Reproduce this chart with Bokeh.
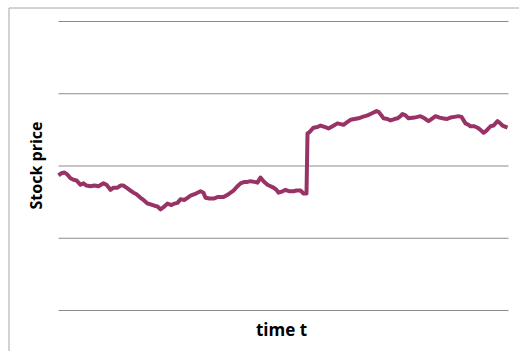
from bokeh.plotting import figure
from bokeh.models import Range1d
from bokeh.core.properties import value
from bokeh.embed import file_html
from bokeh.resources import INLINE

# ---- data ----
time_t = [0, 3, 6, 9, 12, 15, 18, 22, 25, 28, 32, 36, 40, 45, 48, 52, 55, 59, 62, 65,
          69, 72, 75, 78, 82, 85, 89, 92, 96, 99, 102, 105, 109, 113, 116, 119, 122, 126,
          129, 132, 136, 139, 142, 145, 147, 151, 155, 159, 165, 170, 175, 179, 182, 186,
          189, 192, 196, 199, 202, 205, 209, 212, 215, 218, 220, 224, 227, 231, 235, 238,
          242, 245, 248, 249, 251, 255, 259, 262, 266, 270, 274, 279, 282, 285, 289, 292,
          296, 300, 304, 309, 312, 315, 318, 320, 323, 325, 329, 332, 336, 339, 342, 344,
          347, 350, 356, 362, 366, 370, 374, 377, 381, 384, 388, 392, 396, 400, 403, 407,
          410, 412, 416, 419, 422, 425, 428, 432, 435, 439, 441, 444, 449]
stock_price = [1.87, 1.90, 1.91, 1.88, 1.83, 1.81, 1.80, 1.74, 1.76, 1.73, 1.72, 1.73, 1.72,
               1.76, 1.74, 1.67, 1.70, 1.70, 1.73, 1.73, 1.69, 1.66, 1.63, 1.61, 1.56, 1.53,
               1.48, 1.47, 1.45, 1.44, 1.40, 1.43, 1.48, 1.46, 1.48, 1.49, 1.54, 1.53, 1.56,
               1.59, 1.61, 1.63, 1.65, 1.63, 1.56, 1.55, 1.55, 1.57, 1.57, 1.61, 1.66, 1.72,
               1.76, 1.78, 1.78, 1.79, 1.78, 1.77, 1.84, 1.79, 1.74, 1.72, 1.70, 1.67, 1.63,
               1.65, 1.67, 1.65, 1.65, 1.66, 1.66, 1.62, 1.62, 2.45, 2.47, 2.53, 2.54, 2.56,
               2.54, 2.52, 2.55, 2.59, 2.58, 2.57, 2.61, 2.64, 2.65, 2.66, 2.68, 2.70, 2.72,
               2.74, 2.76, 2.75, 2.70, 2.66, 2.65, 2.63, 2.65, 2.66, 2.69, 2.72, 2.70, 2.66,
               2.67, 2.69, 2.66, 2.62, 2.66, 2.69, 2.67, 2.66, 2.65, 2.67, 2.68, 2.69, 2.68,
               2.59, 2.57, 2.55, 2.55, 2.53, 2.50, 2.46, 2.49, 2.55, 2.56, 2.62, 2.60, 2.56,
               2.53]
grid_levels = [0, 1, 2, 3, 4]
x_extent = [0, 450]
y_title = "Stock price"
x_title = "time t"

# ---- layout: the frame covers the whole canvas ----
W, H = 519, 351
PX_LEFT = 58          # pixel where time 0 sits
PX_ZERO = 310         # pixel row of price 0
PX_PER_UNIT = 72.25   # pixels per price unit


def px_x(px):
    return px - PX_LEFT


def px_y(py):
    return (PX_ZERO - py) / PX_PER_UNIT


p = figure(width=W, height=H, output_backend="svg", toolbar_location=None,
           x_range=Range1d(px_x(0), px_x(W)), y_range=Range1d(px_y(H), px_y(0)),
           min_border=0, min_border_left=0, min_border_right=0,
           min_border_top=0, min_border_bottom=0)
p.axis.visible = False
p.grid.visible = False
p.outline_line_color = None
p.background_fill_color = "white"
p.border_fill_color = "white"

# chart-area border (left and top edges visible)
p.line([px_x(8.5), px_x(8.5), px_x(W + 5)], [px_y(H + 5), px_y(7.5), px_y(7.5)],
       line_color="#a6a6a6", line_width=1)

# horizontal gridlines
for g in grid_levels:
    p.line(x_extent, [g, g], line_color="#8c8c8c", line_width=1)

# price series
p.line(time_t, stock_price, line_color="#993366", line_width=4, line_join="round")

# axis titles
p.text(x=[px_x(35)], y=[px_y(165)], text=[y_title], angle=1.5707963,
       text_font=value("Open Sans"), text_font_style="bold", text_font_size="16px",
       text_align="center", text_baseline="middle", text_color="black")
p.text(x=[px_x(281)], y=[px_y(329)], text=[x_title],
       text_font=value("Open Sans"), text_font_style="bold", text_font_size="17px",
       text_align="center", text_baseline="middle", text_color="black")

open("out.html", "w").write(file_html(p, INLINE))
